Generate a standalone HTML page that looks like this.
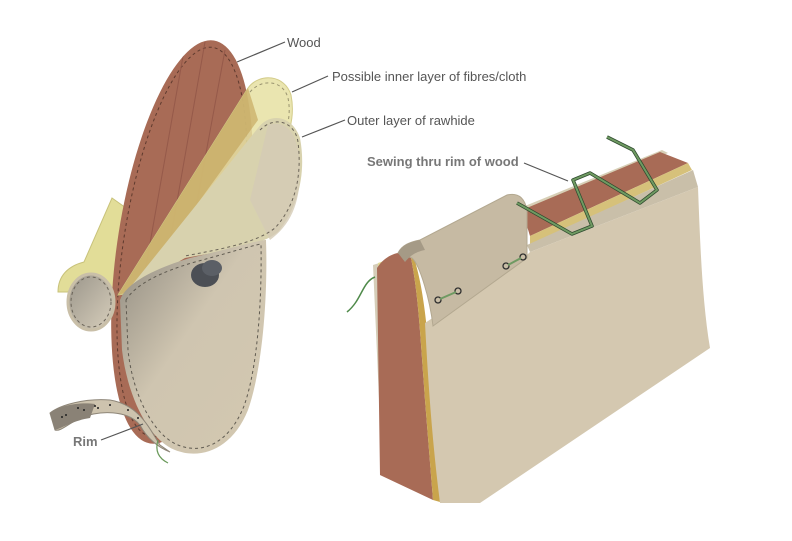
<!DOCTYPE html>
<html><head><meta charset="utf-8"><style>
html,body{margin:0;padding:0;background:#fff}
svg{display:block}
text{font-family:"Liberation Sans",sans-serif}
</style></head><body>
<svg width="792" height="541" viewBox="0 0 792 541">
<defs>
<linearGradient id="tg" x1="0" y1="0" x2="1" y2="1">
<stop offset="0" stop-color="#8f8a80"/><stop offset="0.45" stop-color="#cfc5b0"/><stop offset="1" stop-color="#d3c8b0"/>
</linearGradient>
<linearGradient id="cg" x1="0" y1="0" x2="1" y2="1">
<stop offset="0" stop-color="#9a958a"/><stop offset="1" stop-color="#d8cfbc"/>
</linearGradient>
<clipPath id="wc"><ellipse cx="182" cy="242" rx="64" ry="204" transform="rotate(9 182 242)"/></clipPath>
</defs>
<rect width="792" height="541" fill="#fff"/>

<!-- LEFT FIGURE -->
<path d="M58 292 C58 276 68 266 84 262 L112 198 L126 208 L118 292 Z" fill="#e2dd98" stroke="#c8c27a" stroke-width="1"/>
<ellipse cx="182" cy="242" rx="64" ry="204" transform="rotate(9 182 242)" fill="#a86b56"/>
<ellipse cx="182" cy="242" rx="58" ry="197" transform="rotate(9 182 242)" fill="none" stroke="#5e3a2e" stroke-width="1" stroke-dasharray="3 3"/>
<g stroke="#95594a" stroke-width="1" clip-path="url(#wc)">
<line x1="185" y1="45" x2="140" y2="300"/><line x1="205" y1="42" x2="165" y2="270"/><line x1="225" y1="50" x2="190" y2="240"/>
</g>
<ellipse cx="91" cy="302" rx="23" ry="28" fill="url(#cg)" stroke="#c9bfa8" stroke-width="3"/>
<ellipse cx="91" cy="302" rx="20" ry="25" fill="none" stroke="#6b6458" stroke-dasharray="3 3"/>
<path d="M118 295 L248 88 C260 72 285 75 291 95 C296 120 288 140 270 170 L150 290 Z" fill="#e6e0a2" fill-opacity="0.85" stroke="#d3cc8a"/>
<path d="M250 92 C262 78 283 80 288 98 C292 118 286 138 270 165" fill="none" stroke="#9a9470" stroke-dasharray="3 3"/>
<path d="M118 295 L248 88 L258 120 L135 290 Z" fill="#c2a055" fill-opacity="0.6"/>
<path d="M120 300 L258 128 C270 112 292 115 300 138 C306 170 300 205 278 232 C258 248 215 252 185 258 L130 290 Z" fill="#d8d2ae"/>
<path d="M268 125 C290 118 300 140 300 170 C300 205 290 225 270 240 L250 200 Z" fill="#d5cbb5" opacity="0.8"/>
<path d="M260 130 C275 115 295 122 298 142 C302 175 296 205 275 228 C255 244 215 250 185 256" fill="none" stroke="#6b6458" stroke-dasharray="3 3"/>
<path d="M120 300 C125 285 150 270 190 258 C225 250 258 240 266 240 C268 300 262 370 248 410 C232 450 200 460 175 450 C150 440 128 400 122 350 Z" fill="url(#tg)"/>
<path d="M126 300 C135 285 160 272 195 262 C225 254 250 246 261 244 C262 305 257 370 244 406 C228 446 200 454 178 445 C155 436 133 398 128 350 Z" fill="none" stroke="#5f5a50" stroke-dasharray="3 3"/>
<ellipse cx="205" cy="275" rx="14" ry="12" fill="#4c4f55"/>
<ellipse cx="212" cy="268" rx="10" ry="8" fill="#5b5f66"/>
<path d="M50 413 C60 405 85 398 110 400 C140 405 150 430 160 445 L170 452 C160 448 148 440 140 425 C128 410 100 410 80 418 C68 424 60 432 55 430 Z" fill="#cdc3ae" stroke="#8e8678"/>
<path d="M50 413 C60 405 80 402 95 404 L90 418 C75 420 62 428 55 430 Z" fill="#8a8276"/>
<g fill="#222"><circle cx="62" cy="417" r="1"/><circle cx="66" cy="415" r="1"/><circle cx="78" cy="408" r="1"/><circle cx="84" cy="410" r="1"/><circle cx="95" cy="406" r="1"/><circle cx="98" cy="408" r="1"/><circle cx="110" cy="405" r="1"/><circle cx="128" cy="410" r="1"/><circle cx="138" cy="418" r="1"/></g>
<path d="M158 440 C155 450 158 458 168 463" fill="none" stroke="#6a9a5a" stroke-width="1.2"/>

<g stroke="#555" stroke-width="1.2">
<line x1="237" y1="62" x2="285" y2="42"/>
<line x1="292" y1="92" x2="328" y2="76"/>
<line x1="302" y1="137" x2="345" y2="120"/>
<line x1="101" y1="440" x2="143" y2="424"/>
<line x1="524" y1="163" x2="568" y2="181"/>
</g>
<g font-size="13" fill="#555">
<text x="287" y="47">Wood</text>
<text x="332" y="81">Possible inner layer of fibres/cloth</text>
<text x="347" y="125">Outer layer of rawhide</text>
</g>
<text x="73" y="446" font-size="13" font-weight="bold" fill="#777">Rim</text>
<text x="367" y="166" font-size="13" font-weight="bold" fill="#777">Sewing thru rim of wood</text>

<!-- RIGHT FIGURE -->
<path d="M373 265 L395 258 L410 470 L382 465 Z" fill="#d5cdb8"/>
<path d="M378 263 L398 256 L418 480 L388 470 Z" fill="#e3db96"/>
<path d="M377 268 C385 255 400 250 410 253 C418 290 420 330 425 400 L433 500 L380 475 Z" fill="#a86b56"/>
<path d="M410 253 C418 290 420 330 425 400 L433 500 L440 502 L432 400 C428 320 422 280 412 252 Z" fill="#c9a44c"/>
<path d="M520 208 L662 150 L668 153 L528 212 Z" fill="#d7cfb6"/>
<path d="M522 210 L660 152 L688 163 L530 236 Z" fill="#a86b56"/>
<path d="M530 236 L688 163 L692 170 L530 245 Z" fill="#d6c17a"/>
<path d="M527 245 L693 170 L698 187 L530 252 Z" fill="#c9bfa9"/>
<path d="M425 323 L527 255 L530 252 L698 187 C700 240 702 300 710 348 L480 503 L440 503 C432 440 428 380 425 323 Z" fill="#d4c8b0"/>
<path d="M398 253 C402 245 410 242 420 240 L507 195 C520 192 525 200 527 210 L527 258 L433 326 C430 300 420 265 412 258 Z" fill="#c6baa3" stroke="#b3a890" stroke-width="1"/>
<path d="M398 253 C402 245 410 242 420 240 L425 250 C415 252 410 256 405 262 Z" fill="#a59a86"/>
<g fill="none" stroke="#2e4a2e" stroke-width="3.5" stroke-linejoin="round">
<polyline points="517,203 572,234 592,226 573,180 590,173 640,203 657,190 633,150 607,137"/>
</g>
<g fill="none" stroke="#6f9a62" stroke-width="2" stroke-linejoin="round">
<polyline points="517,203 572,234 592,226 573,180 590,173 640,203 657,190 633,150 607,137"/>
</g>
<path d="M375 277 C362 282 362 300 347 312" fill="none" stroke="#4f8a4a" stroke-width="1.5"/>
<g stroke="#2e2e2e" stroke-width="1.3" fill="#c9bda6">
<circle cx="438" cy="300" r="3"/><circle cx="458" cy="291" r="3"/>
<circle cx="506" cy="266" r="3"/><circle cx="523" cy="257" r="3"/>
</g>
<g stroke="#6f9a62" stroke-width="2">
<line x1="440" y1="299" x2="456" y2="292"/><line x1="508" y1="265" x2="521" y2="258"/>
</g>
</svg>
</body></html>
